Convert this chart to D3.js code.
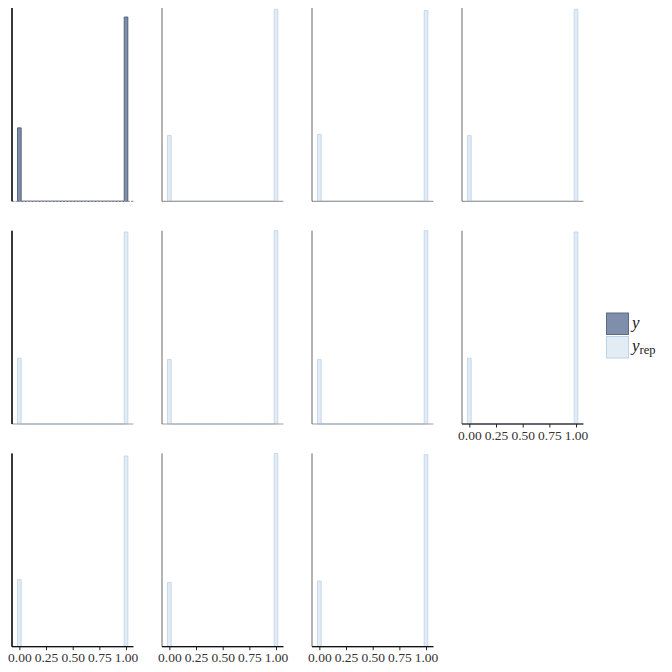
<!DOCTYPE html>
<html><head><meta charset="utf-8">
<script src="https://cdn.jsdelivr.net/npm/d3@7"></script>
<style>body{margin:0;background:#fff}</style></head>
<body>
<svg id="c" width="672" height="672"></svg>
<script>
// ---- data ----
const panelIds   = ["y","rep1","rep2","rep3","rep4","rep5","rep6","rep7","rep8","rep9","rep10"];
const countZero  = [57, 51, 52, 51, 51, 50, 50, 51, 52, 50, 51];
const countOne   = [143,149,148,149,149,150,150,149,148,150,149];
const nBins      = 30;
const xTicks     = [0, 0.25, 0.5, 0.75, 1];
const xTickLabels= ["0.00","0.25","0.50","0.75","1.00"];
const legendLabels = ["y","rep"];

// ---- layout ----
const svg = d3.select("#c");
const pw = 121.4, ph = 193.3;
const colX = c => 12 + 150*c;
const rowY = r => 8 + 222.7*r;
const binW = 1/(nBins-1);
const lo = -binW/2, hi = 1 + binW/2, pad = 0.05*(hi-lo);
const x = d3.scaleLinear().domain([lo-pad, hi+pad]).range([0, pw]);
const ymax = d3.max(countZero.concat(countOne));
const y = d3.scaleLinear().domain([0, ymax]).range([ph, 0]);

const colY = {fill:"#7f8eab", stroke:"#3e4d6b"};
const colR = {fill:"#e2ecf5", stroke:"#bcd2e6"};

panelIds.forEach((id,i)=>{
  const r = Math.floor(i/4), c = i%4;
  const g = svg.append("g").attr("transform",`translate(${colX(c)},${rowY(r)})`);
  const bins = d3.range(nBins).map(b=>({c:b*binW, n: b===0?countZero[i]:(b===nBins-1?countOne[i]:0)}));
  const col = i===0?colY:colR;
  g.selectAll("path.bar").data(bins).join("path").attr("class","bar")
    .attr("d", d=>{
      const x0=x(d.c-binW/2), x1=x(d.c+binW/2), y0=y(0), y1=y(d.n);
      return `M${x0},${y0}V${y1}H${x1}V${y0}Z`;
    })
    .attr("fill",col.fill).attr("stroke",col.stroke).attr("stroke-width",0.8);
  // forced axis segments in every facet
  g.append("line").attr("x1",0).attr("x2",pw).attr("y1",ph).attr("y2",ph)
    .attr("stroke","#a0a0a0").attr("stroke-width",1.2).attr("stroke-dasharray", i===0?"2.5,1":null);
  g.append("line").attr("x1",0).attr("x2",0).attr("y1",0).attr("y2",ph)
    .attr("stroke","#000").attr("stroke-opacity",0.6).attr("stroke-width",1);
  if(c===0){
    g.append("line").attr("x1",0).attr("x2",0).attr("y1",0).attr("y2",ph)
      .attr("stroke","#111").attr("stroke-width",1.5);
  }
  const bottom = (r===2) || (r===1 && c===3);
  if(bottom){
    g.append("line").attr("x1",0).attr("x2",pw).attr("y1",ph).attr("y2",ph)
      .attr("stroke","#111").attr("stroke-width",1.2);
    const ax = g.append("g").attr("transform",`translate(0,${ph})`)
      .call(d3.axisBottom(x).tickValues(xTicks).tickFormat((d,k)=>xTickLabels[k]).tickSize(3.5).tickPadding(2.5));
    ax.select(".domain").remove();
    ax.selectAll(".tick line").attr("stroke","#222").attr("stroke-width",1);
    ax.selectAll(".tick text").attr("fill","#333").style("font-family","'Liberation Serif', serif").style("font-size","13.5px");
  }
});

// ---- legend ----
const lg = svg.append("g");
lg.append("rect").attr("x",606.5).attr("y",313).attr("width",22).attr("height",21.5)
  .attr("fill",colY.fill).attr("stroke","#5d6b86").attr("stroke-width",1);
lg.append("rect").attr("x",606.5).attr("y",336.5).attr("width",22).attr("height",21.5)
  .attr("fill",colR.fill).attr("stroke",colR.stroke).attr("stroke-width",1);
lg.append("text").attr("x",632).attr("y",327.5).text(legendLabels[0])
  .style("font-family","'Liberation Serif', serif").style("font-style","italic").style("font-size","17px").attr("fill","#222");
const t2 = lg.append("text").attr("x",632).attr("y",351)
  .style("font-family","'Liberation Serif', serif").style("font-size","17px").attr("fill","#222");
t2.append("tspan").style("font-style","italic").text(legendLabels[0]);
t2.append("tspan").attr("dy",3).style("font-size","12.5px").text(legendLabels[1]);
</script>
</body></html>
